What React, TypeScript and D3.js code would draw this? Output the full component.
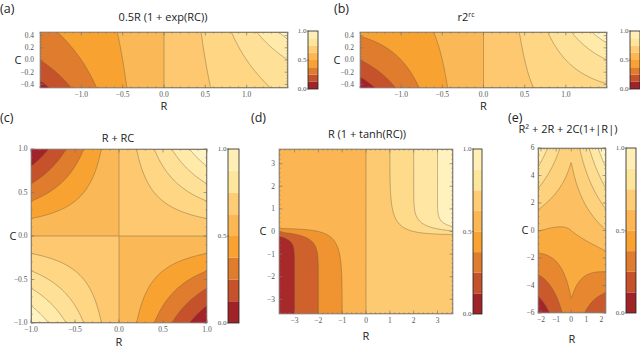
import React, { useMemo } from "react";
import * as d3 from "d3";

// contour levels
const levelsA = [-2, -1.5, -1, -0.5, 0, 0.5, 1, 1.5, 2];
const levelsB = [-2, -1.5, -1, -0.5, 0, 0.5, 1, 1.5, 2];
const levelsC = [-0.8, -0.6, -0.4, -0.2, 0, 0.2, 0.4, 0.6, 0.8];
const levelsD = [-6, -4, -2, 0, 2, 4, 6];
const levelsE = [-30, -20, -10, 0, 10, 20, 30, 40];

// shading (dark red -> pale yellow)
const shadeStops = [0.05, 0.15, 0.25, 0.35, 0.45, 0.55, 0.65, 0.75, 0.85, 0.95];
const shadeColors = [
  "#a3232a", "#c5522b", "#e07c2e", "#f8a232", "#fbb857",
  "#fdc86f", "#fed684", "#fee096", "#ffeaa9", "#fff3c2",
];

// colour bar bands, bottom to top
const barColors = ["#a02427", "#c5522b", "#e07c2e", "#f9a232", "#fcb654", "#fdcc74", "#fee59c", "#ffefb5"];
const barTicks = [0, 0.5, 1];

const ticksRab = [-1, -0.5, 0, 0.5, 1];
const ticksCab = [-0.4, -0.2, 0, 0.2, 0.4];
const ticksRC = [-1, -0.5, 0, 0.5, 1];
const ticksD = [-3, -2, -1, 0, 1, 2, 3];
const ticksRe = [-2, -1, 0, 1, 2];
const ticksCe = [-6, -4, -2, 0, 2, 4, 6];

const fA = (r, c) => 0.5 * r * (1 + Math.exp(r * c));
const fB = (r, c) => r * Math.pow(2, r * c);
const fC = (r, c) => r * c;
const fD = (r, c) => r * (1 + Math.tanh(r * c));
const fE = (r, c) => r * r + 2 * r + 2 * c * (1 + Math.abs(r));

const shade = d3.scaleLinear<string>().domain(shadeStops).range(shadeColors).clamp(true);

const SANS = "'Open Sans', 'Liberation Sans', sans-serif";
const SERIF = "'Liberation Serif', 'DejaVu Serif', serif";

function bandColor(levels, vDom, k) {
  const lo = k === 0 ? vDom[0] : levels[k - 1];
  const hi = k === levels.length ? vDom[1] : levels[k];
  return shade(((lo + hi) / 2 - vDom[0]) / (vDom[1] - vDom[0]));
}

function Panel(props) {
  const { f, rDom, cDom, levels, vDom, box, rTicks, cTicks, rMinor, cMinor, fmt, gap, bar, id } = props;
  const x = d3.scaleLinear().domain(rDom).range([box.x, box.x + box.w]);
  const y = d3.scaleLinear().domain(cDom).range([box.y + box.h, box.y]);

  const { fills, path } = useMemo(() => {
    const nx = Math.round(box.w * 1.5);
    const ny = Math.round(box.h * 1.5);
    const values = new Array(nx * ny);
    for (let j = 0; j < ny; j++) {
      const c = cDom[1] - ((j + 0.5) / ny) * (cDom[1] - cDom[0]);
      for (let i = 0; i < nx; i++) {
        const r = rDom[0] + ((i + 0.5) / nx) * (rDom[1] - rDom[0]);
        values[i + j * nx] = f(r, c);
      }
    }
    const proj = d3.geoTransform({
      point(px, py) {
        this.stream.point(
          x(rDom[0] + (px / nx) * (rDom[1] - rDom[0])),
          y(cDom[1] - (py / ny) * (cDom[1] - cDom[0]))
        );
      },
    });
    const p = d3.geoPath(proj);
    const cs = d3.contours().size([nx, ny]).thresholds(levels)(values);
    return { fills: cs, path: p };
  }, [f]);

  const bx = box.x, by = box.y, bw = box.w, bh = box.h;
  const tickCol = "#777";
  const rMinorTicks = d3.range(Math.ceil(rDom[0] / rMinor) * rMinor, rDom[1] + 1e-9, rMinor);
  const cMinorTicks = d3.range(Math.ceil(cDom[0] / cMinor) * cMinor, cDom[1] + 1e-9, cMinor);

  const by2 = d3.scaleLinear().domain([0, 1]).range([bar.y + bar.h, bar.y]);
  const bandH = bar.h / barColors.length;

  return (
    <g>
      <defs>
        <clipPath id={"clip-" + id}>
          <rect x={bx} y={by} width={bw} height={bh} />
        </clipPath>
      </defs>
      <g clipPath={`url(#clip-${id})`}>
        <rect x={bx} y={by} width={bw} height={bh} fill={bandColor(levels, vDom, 0)} />
        {fills.map((c, k) => (
          <path key={"f" + k} d={path(c)} fill={bandColor(levels, vDom, k + 1)} />
        ))}
        {fills.map((c, k) => (
          <path key={"l" + k} d={path(c)} fill="none" stroke="#6a583a" strokeOpacity={0.6} strokeWidth={0.7} />
        ))}
      </g>
      <rect x={bx} y={by} width={bw} height={bh} fill="none" stroke="#999" strokeWidth={0.8} />
      {rMinorTicks.map((v, i) => (
        <g key={"rm" + i} stroke={tickCol} strokeWidth={0.5}>
          <line x1={x(v)} x2={x(v)} y1={by + bh} y2={by + bh - 1.8} />
          <line x1={x(v)} x2={x(v)} y1={by} y2={by + 1.8} />
        </g>
      ))}
      {cMinorTicks.map((v, i) => (
        <g key={"cm" + i} stroke={tickCol} strokeWidth={0.5}>
          <line x1={bx} x2={bx + 1.8} y1={y(v)} y2={y(v)} />
          <line x1={bx + bw} x2={bx + bw - 1.8} y1={y(v)} y2={y(v)} />
        </g>
      ))}
      {rTicks.map((v, i) => (
        <g key={"rt" + i}>
          <line x1={x(v)} x2={x(v)} y1={by + bh} y2={by + bh - 3.5} stroke={tickCol} strokeWidth={0.6} />
          <line x1={x(v)} x2={x(v)} y1={by} y2={by + 3.5} stroke={tickCol} strokeWidth={0.6} />
          <text x={x(v)} y={by + bh + 8.5} textAnchor="middle" fontFamily={SERIF} fontSize={7.5} fill="#555">
            {fmt(v)}
          </text>
        </g>
      ))}
      {cTicks.map((v, i) => (
        <g key={"ct" + i}>
          <line x1={bx} x2={bx + 3.5} y1={y(v)} y2={y(v)} stroke={tickCol} strokeWidth={0.6} />
          <line x1={bx + bw} x2={bx + bw - 3.5} y1={y(v)} y2={y(v)} stroke={tickCol} strokeWidth={0.6} />
          <text x={bx - gap} y={y(v)} dy="0.33em" textAnchor="end" fontFamily={SERIF} fontSize={7.5} fill="#555">
            {fmt(v)}
          </text>
        </g>
      ))}
      <text x={bx + bw / 2} y={props.rLabelY} textAnchor="middle" fontFamily={SANS} fontSize={11} fill="#222">R</text>
      <text x={props.cLabelX} y={by + bh / 2} dy="0.35em" textAnchor="middle" fontFamily={SANS} fontSize={11} fill="#222">C</text>
      <text x={props.titleX} y={props.titleY} textAnchor="middle" fontFamily={SANS} fontSize={11} fill="#222">
        {props.title}
      </text>
      <text x={props.tagX} y={props.tagY} fontFamily={SANS} fontSize={12.5} fill="#222">{props.tag}</text>

      {barColors.map((col, i) => (
        <rect key={"b" + i} x={bar.x} y={by2((i + 1) / barColors.length)} width={bar.w} height={bandH} fill={col} />
      ))}
      <rect x={bar.x} y={bar.y} width={bar.w} height={bar.h} fill="none" stroke="#222" strokeWidth={0.8} />
      {barTicks.map((v, i) => (
        <g key={"bt" + i}>
          <line x1={bar.x - 1.5} x2={bar.x + 1} y1={by2(v)} y2={by2(v)} stroke="#555" strokeWidth={0.6} />
          <text x={bar.x - 1.5} y={by2(v)} dy="0.33em" textAnchor="end" fontFamily={SERIF} fontSize={7} fill="#555">
            {d3.format(".1f")(v)}
          </text>
        </g>
      ))}
    </g>
  );
}

const f1 = d3.format(".1f");
const f0 = d3.format("d");

export default function App() {
  return (
    <svg width={640} height={347} style={{ position: "absolute", left: 0, top: 0, background: "#fff" }}>
      <Panel
        id="a" f={fA} rDom={[-1.5, 1.5]} cDom={[-0.46, 0.46]} levels={levelsA} vDom={[-2.5, 2.5]}
        box={{ x: 40, y: 32, w: 248, h: 56 }} rTicks={ticksRab} cTicks={ticksCab} rMinor={0.1} cMinor={0.05}
        fmt={f1} gap={6} bar={{ x: 308, y: 31, w: 10, h: 58 }}
        rLabelY={109.5} cLabelX={18} title="0.5R (1 + exp(RC))" titleX={163} titleY={21} tag="(a)" tagX={0} tagY={13}
      />
      <Panel
        id="b" f={fB} rDom={[-1.5, 1.5]} cDom={[-0.46, 0.46]} levels={levelsB} vDom={[-2.5, 2.5]}
        box={{ x: 360, y: 32, w: 247, h: 56 }} rTicks={ticksRab} cTicks={ticksCab} rMinor={0.1} cMinor={0.05}
        fmt={f1} gap={6} bar={{ x: 630, y: 31, w: 10, h: 58 }}
        rLabelY={109.5} cLabelX={337}
        title={<>r2<tspan fontSize={7} dy={-4}>rc</tspan></>} titleX={466} titleY={21} tag="(b)" tagX={334} tagY={13}
      />
      <Panel
        id="c" f={fC} rDom={[-1, 1]} cDom={[-1, 1]} levels={levelsC} vDom={[-1, 1]}
        box={{ x: 31, y: 149, w: 176, h: 174 }} rTicks={ticksRC} cTicks={ticksRC} rMinor={0.1} cMinor={0.1}
        fmt={f1} gap={3.5} bar={{ x: 228, y: 149, w: 11, h: 174 }}
        rLabelY={345.5} cLabelX={13} title="R + RC" titleX={118} titleY={142} tag="(c)" tagX={0} tagY={122}
      />
      <Panel
        id="d" f={fD} rDom={[-3.65, 3.65]} cDom={[-3.65, 3.65]} levels={levelsD} vDom={[-8, 8]}
        box={{ x: 279, y: 149, w: 174, h: 165 }} rTicks={ticksD} cTicks={ticksD} rMinor={0.2} cMinor={0.2}
        fmt={f0} gap={4} bar={{ x: 473, y: 149, w: 9, h: 165 }}
        rLabelY={340} cLabelX={263} title="R (1 + tanh(RC))" titleX={367} titleY={138} tag="(d)" tagX={251} tagY={122}
      />
      <Panel
        id="e" f={fE} rDom={[-2.2, 2.3]} cDom={[-6, 6]} levels={levelsE} vDom={[-40, 50]}
        box={{ x: 538, y: 148, w: 68, h: 165 }} rTicks={ticksRe} cTicks={ticksCe} rMinor={0.2} cMinor={0.5}
        fmt={f0} gap={3.5} bar={{ x: 626, y: 148, w: 10, h: 165 }}
        rLabelY={343} cLabelX={525} title="R² + 2R + 2C(1+|R|)" titleX={568} titleY={133} tag="(e)" tagX={508} tagY={122}
      />
    </svg>
  );
}
